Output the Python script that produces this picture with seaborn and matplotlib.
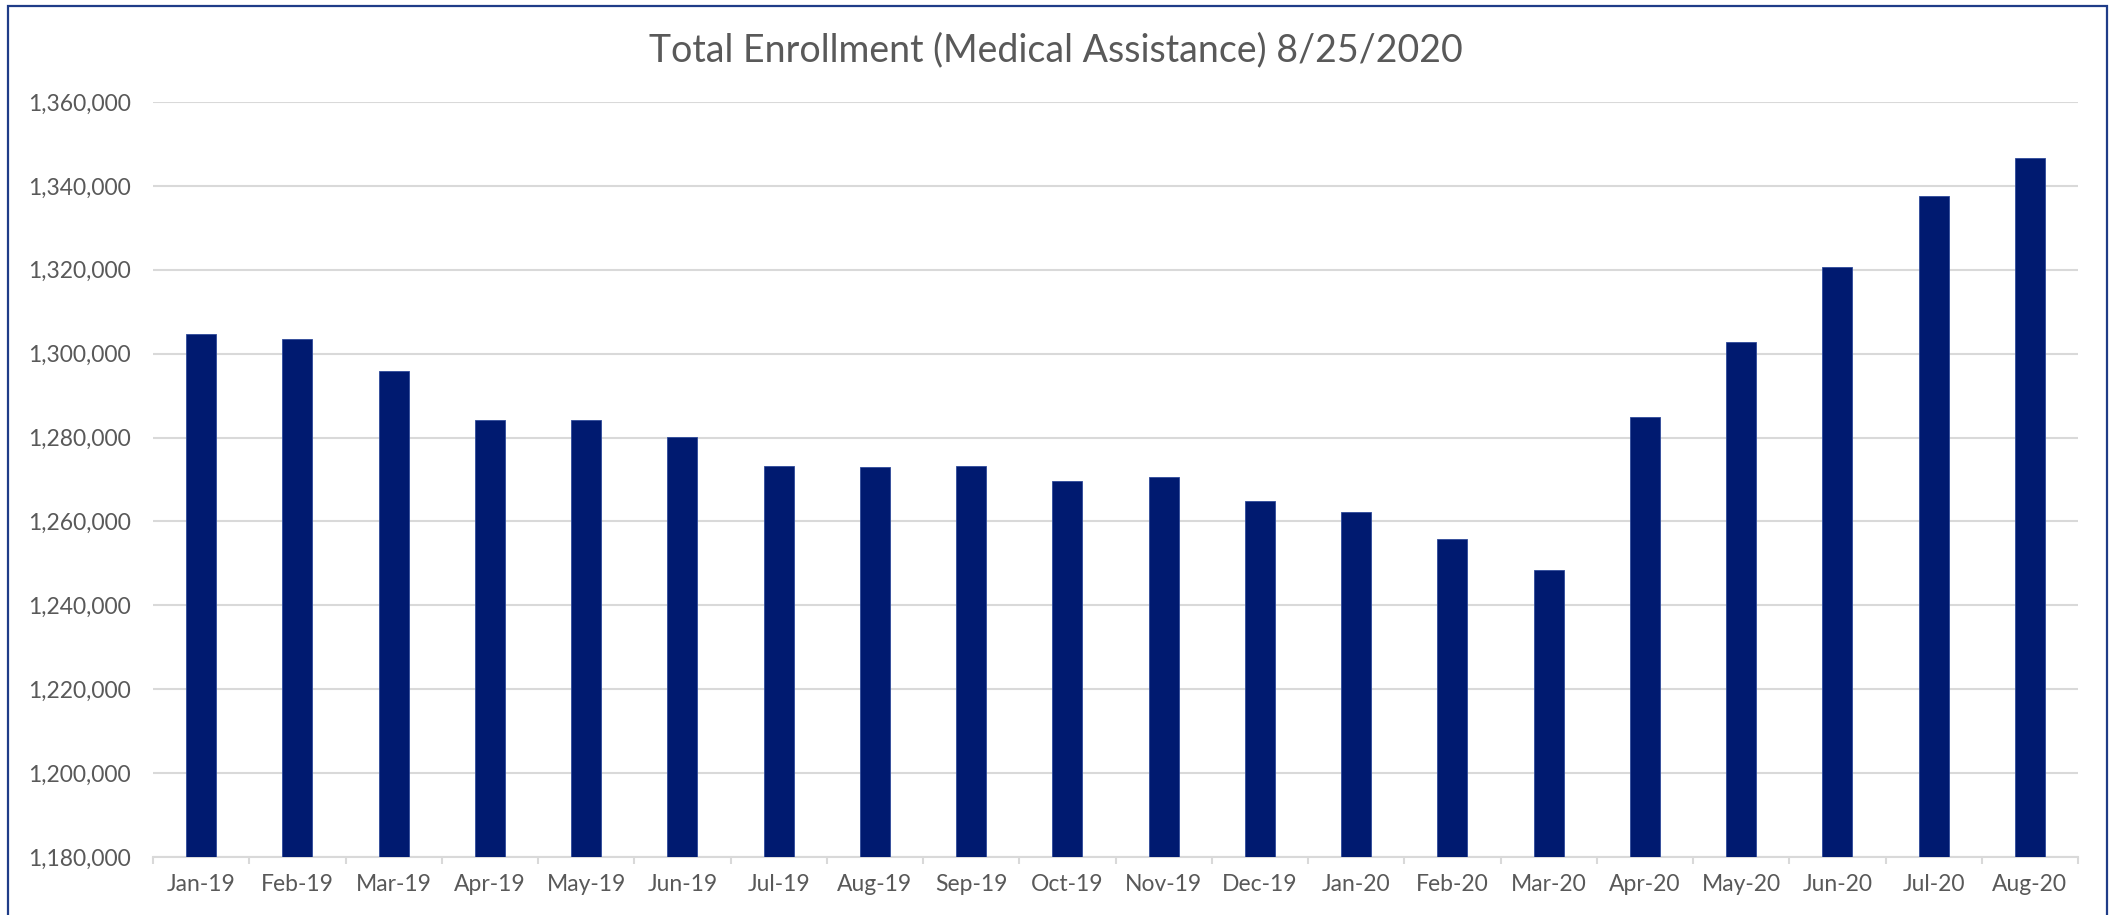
import matplotlib
matplotlib.use("Agg")
import matplotlib.pyplot as plt
import matplotlib.ticker as mticker
from matplotlib.patches import Rectangle
import seaborn as sns
import pandas as pd
import numpy as np

months = ["Jan-19", "Feb-19", "Mar-19", "Apr-19", "May-19", "Jun-19", "Jul-19",
          "Aug-19", "Sep-19", "Oct-19", "Nov-19", "Dec-19", "Jan-20", "Feb-20",
          "Mar-20", "Apr-20", "May-20", "Jun-20", "Jul-20", "Aug-20"]
enrollment = [1304700, 1303400, 1295800, 1284100, 1284100, 1280100, 1273300,
              1272900, 1273100, 1269600, 1270700, 1264900, 1262300, 1255800,
              1248400, 1284800, 1302700, 1320700, 1337600, 1346700]
y_ticks = [1180000, 1200000, 1220000, 1240000, 1260000, 1280000, 1300000,
           1320000, 1340000, 1360000]
title = "Total Enrollment (Medical Assistance) 8/25/2020"

sns.set_theme(style="white")
plt.rcParams["font.family"] = ["Lato", "DejaVu Sans"]

W, H = 2111, 915
fig = plt.figure(figsize=(W / 100, H / 100), dpi=100)
ax = fig.add_axes([153 / W, 1 - 857 / H, (2078 - 153) / W, (857 - 102) / H])

df = pd.DataFrame({"month": months, "enrollment": enrollment})
sns.barplot(data=df, x="month", y="enrollment", color="#001A70", saturation=1,
            width=0.31, edgecolor="#2E4A9A", linewidth=0.6, ax=ax, zorder=3)

text_color = "#595959"
grid_color = "#D9D9D9"

ax.set_ylim(y_ticks[0], y_ticks[-1])
ax.set_xlim(-0.5, len(months) - 0.5)
ax.set_yticks(y_ticks)
ax.yaxis.set_major_formatter(mticker.FuncFormatter(lambda v, p: f"{int(v):,}"))
ax.set_xlabel("")
ax.set_ylabel("")

ax.grid(axis="y", color=grid_color, linewidth=1.5, zorder=0)
ax.set_axisbelow(True)
for side in ["left", "right", "top"]:
    ax.spines[side].set_visible(False)
ax.spines["bottom"].set_color(grid_color)
ax.spines["bottom"].set_linewidth(1.5)

# category boundary ticks below the axis
ax.set_xticks(np.arange(-0.5, len(months)), minor=True)
ax.tick_params(axis="x", which="minor", bottom=True, length=5, width=1.5,
               color=grid_color)
ax.tick_params(axis="x", which="major", length=0, pad=12, labelsize=16.5,
               labelcolor=text_color)
ax.tick_params(axis="y", length=0, pad=16, labelsize=16.5, labelcolor=text_color)

fig.text(0.5, 1 - 50 / H, title, ha="center", va="center", fontsize=27,
         color=text_color)

# outer frame around the chart area
fig.patches.append(Rectangle((8 / W, -0.02), (2107 - 8) / W, 1.02 - 6 / H,
                             transform=fig.transFigure, fill=False,
                             edgecolor="#1F3C88", linewidth=1.6))

fig.savefig("out.png", dpi=100, facecolor="white")
